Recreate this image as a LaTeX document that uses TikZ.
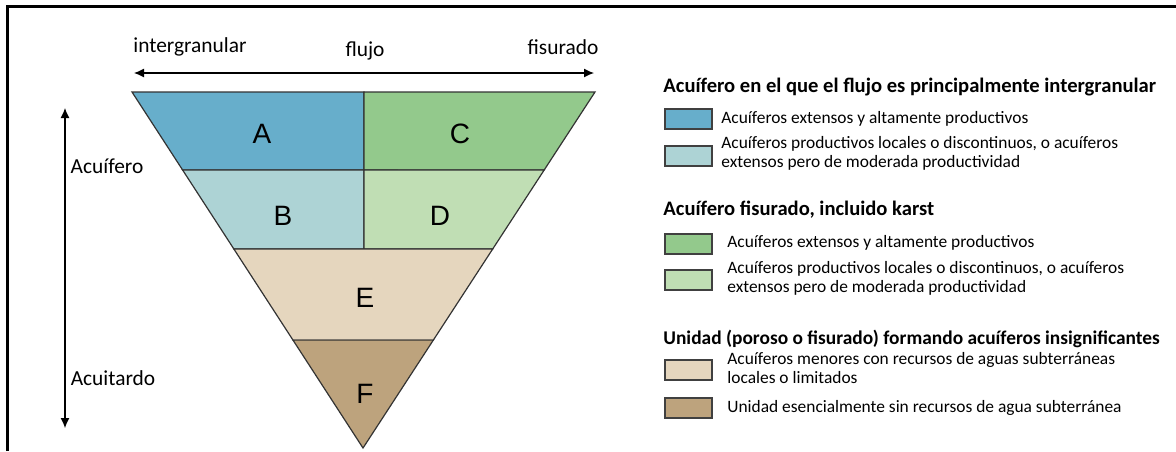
\documentclass[tikz,border=0pt]{standalone}
\usepackage{fontspec}
\setmainfont{Carlito}
\newfontfamily\letrafont{Liberation Sans}
\usetikzlibrary{calc,arrows.meta}

\definecolor{azulA}{RGB}{103,174,203}
\definecolor{azulB}{RGB}{173,211,213}
\definecolor{verdeC}{RGB}{147,201,140}
\definecolor{verdeD}{RGB}{192,222,180}
\definecolor{beigeE}{RGB}{229,214,190}
\definecolor{cafeF}{RGB}{189,163,125}

\begin{document}
\begin{tikzpicture}[x=0.5pt,y=-0.5pt,
  zona/.style={draw=black!80, line width=0.6pt},
  letra/.style={font=\letrafont\fontsize{14}{16}\selectfont},
  etiq/.style={font=\fontsize{10.7}{12}\selectfont},
  titulo/.style={font=\bfseries\fontsize{10.3}{12}\selectfont, anchor=west, inner sep=0pt},
  caja/.style={draw=black!75, line width=0.7pt, minimum width=23.5pt, minimum height=10pt, inner sep=0pt},
  desc/.style={font=\fontsize{8.7}{9.6}\selectfont, anchor=west, align=left, inner sep=0pt},
  flecha/.style={{Latex[length=5pt,width=4.5pt]}-{Latex[length=5pt,width=4.5pt]}, line width=0.6pt}]
\useasboundingbox (0,0) rectangle (1176,451);
% marco
\draw[line width=1.3pt] (7.5,451) -- (7.5,6.5) -- (1176,6.5);

% triangulo
\coordinate (tl) at (132,92);
\coordinate (tr) at (595,92);
\coordinate (ap) at (363,448);
\coordinate (m0) at (364,92);
\coordinate (l1) at ($(tl)!0.219!(ap)$);
\coordinate (r1) at ($(tr)!0.219!(ap)$);
\coordinate (l2) at ($(tl)!0.441!(ap)$);
\coordinate (r2) at ($(tr)!0.441!(ap)$);
\coordinate (l3) at ($(tl)!0.697!(ap)$);
\coordinate (r3) at ($(tr)!0.697!(ap)$);
\coordinate (m1) at (364,170);
\coordinate (m2) at (364,249);

\draw[zona, fill=azulA] (tl) -- (m0) -- (m1) -- (l1) -- cycle;
\draw[zona, fill=verdeC] (m0) -- (tr) -- (r1) -- (m1) -- cycle;
\draw[zona, fill=azulB] (l1) -- (m1) -- (m2) -- (l2) -- cycle;
\draw[zona, fill=verdeD] (m1) -- (r1) -- (r2) -- (m2) -- cycle;
\draw[zona, fill=beigeE] (l2) -- (r2) -- (r3) -- (l3) -- cycle;
\draw[zona, fill=cafeF] (l3) -- (r3) -- (ap) -- cycle;

\node[letra] (A) at (262,134) {A};
\node[letra] (C) at (460,134) {C};
\node[letra] (B) at (283,216) {B};
\node[letra] (D) at (440,216) {D};
\node[letra] (E) at (365,298) {E};
\node[letra] (F) at (365,394) {F};

% flechas
\coordinate (fi) at (134,73);
\coordinate (fd) at (594,73);
\draw[flecha] (fi) -- (fd);
\coordinate (va) at (65,108);
\coordinate (vb) at (65,428);
\draw[flecha] (va) -- (vb);

\node[etiq] (intg) at (190,47) {intergranular};
\node[etiq] (flujo) at (365,51) {flujo};
\node[etiq] (fisu) at (563,47) {fisurado};
\node[etiq] (acuif) at (107,166) {Acuífero};
\node[etiq] (acuit) at (113,378) {Acuitardo};

% leyenda
\node[titulo] (t1) at (663,87) {Acuífero en el que el flujo es principalmente intergranular};
\node[caja, fill=azulA] (c1) at (688.5,119) {};
\node[desc] (d1) at (721,119) {Acuíferos extensos y altamente productivos};
\node[caja, fill=azulB] (c2) at (688.5,156) {};
\node[desc] (d2) at (721,153) {Acuíferos productivos locales o discontinuos, o acuíferos\\extensos pero de moderada productividad};

\node[titulo] (t2) at (663,210) {Acuífero fisurado, incluido karst};
\node[caja, fill=verdeC] (c3) at (688.5,244) {};
\node[desc] (d3) at (727,243) {Acuíferos extensos y altamente productivos};
\node[caja, fill=verdeD] (c4) at (688.5,280) {};
\node[desc] (d4) at (727,278) {Acuíferos productivos locales o discontinuos, o acuíferos\\extensos pero de moderada productividad};

\node[titulo, font=\bfseries\fontsize{9.7}{12}\selectfont] (t3) at (663,339) {Unidad (poroso o fisurado) formando acuíferos insignificantes};
\node[caja, fill=beigeE] (c5) at (688.5,370) {};
\node[desc] (d5) at (727,368) {Acuíferos menores con recursos de aguas subterráneas\\locales o limitados};
\node[caja, fill=cafeF] (c6) at (688.5,408) {};
\node[desc] (d6) at (727,408) {Unidad esencialmente sin recursos de agua subterránea};
\end{tikzpicture}
\end{document}
